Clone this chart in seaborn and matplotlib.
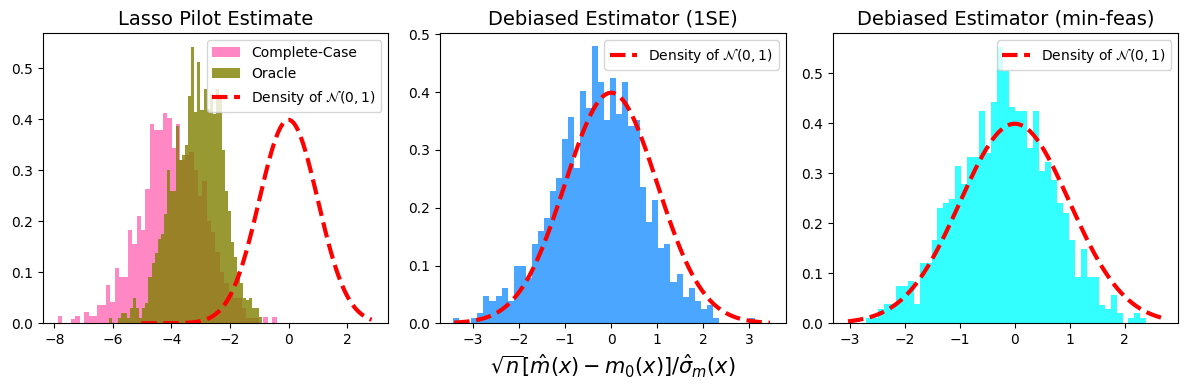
import numpy as np
import pandas as pd
import matplotlib
matplotlib.use("Agg")
import matplotlib.pyplot as plt
import seaborn as sns

# ---------------- data (density heights) ----------------
titles = ["Lasso Pilot Estimate", "Debiased Estimator (1SE)", "Debiased Estimator (min-feas)"]
legend_labels = ["Complete-Case", "Oracle", r"Density of $\mathcal{N}(0,1)$"]
xlabel_text = r"$\sqrt{n}[\hat{m}(x) - m_0(x)]/\hat{\sigma}_m(x)$"

# Panel 1: complete-case lasso pilot (pink), 50 bins
cc_lo, cc_width = -7.877, 0.1494
cc_heights = [0.014, 0, 0, 0.009, 0.014, 0, 0.022, 0.014, 0.014, 0.036,
              0.036, 0.075, 0.042, 0.108, 0.090, 0.090, 0.183, 0.156, 0.210, 0.183,
              0.263, 0.390, 0.379, 0.379, 0.413, 0.402, 0.343, 0.390, 0.320, 0.330,
              0.336, 0.300, 0.250, 0.280, 0.200, 0.180, 0.140, 0.100, 0.080, 0.060,
              0.050, 0.050, 0.030, 0.010, 0.010, 0.010, 0, 0.012, 0, 0.012]

# Panel 1: oracle lasso pilot (olive), 50 bins
or_lo, or_width = -6.143, 0.1045
or_heights = [0.011, 0, 0, 0.011, 0.020, 0.020, 0.011, 0.030, 0.050, 0.030,
              0.011, 0.030, 0.040, 0.090, 0.118, 0.137, 0.165, 0.175, 0.214, 0.300,
              0.260, 0.260, 0.387, 0.320, 0.330, 0.350, 0.446, 0.541, 0.415, 0.513,
              0.418, 0.460, 0.420, 0.450, 0.410, 0.460, 0.440, 0.340, 0.260, 0.220,
              0.160, 0.130, 0.100, 0.080, 0.050, 0.045, 0.050, 0.030, 0.030, 0.013]

# Panel 2: debiased (1SE), 50 bins
se_lo, se_width = -3.43, 0.1311
se_heights = [0.009, 0, 0, 0.009, 0.017, 0.047, 0.039, 0.047, 0.061, 0.039,
              0.099, 0.099, 0.078, 0.137, 0.160, 0.182, 0.229, 0.252, 0.319, 0.357,
              0.268, 0.402, 0.372, 0.479, 0.418, 0.351, 0.424, 0.363, 0.418, 0.342,
              0.351, 0.236, 0.176, 0.213, 0.131, 0.137, 0.071, 0.085, 0.046, 0.061,
              0.039, 0.025, 0.031, 0.009, 0, 0, 0, 0, 0, 0.009]

# Panel 3: debiased (min-feas), 47 bins
mf_lo, mf_width = -2.715, 0.1088
mf_heights = [0.010, 0.010, 0.028, 0.039, 0.039, 0.075, 0.075, 0.085, 0.039, 0.120,
              0.120, 0.167, 0.230, 0.240, 0.248, 0.315, 0.279, 0.333, 0.333, 0.425,
              0.340, 0.443, 0.553, 0.505, 0.432, 0.425, 0.425, 0.351, 0.425, 0.305,
              0.323, 0.287, 0.241, 0.221, 0.167, 0.093, 0.149, 0.093, 0.093, 0.037,
              0.028, 0.057, 0.020, 0, 0.010, 0.020, 0.010]

# x-span of the N(0,1) density curve in each panel
curve_spans = [(-5.03, 2.84), (-3.41, 3.45), (-3.04, 2.68)]
xlims = [(-8.40, 3.41), (-3.72, 3.79), (-3.32, 2.98)]
ylims = [(0, 0.569), (0, 0.502), (0, 0.580)]

# ---------------- plotting ----------------
fig = plt.figure(figsize=(11.89, 3.89), dpi=100)
w, h, b = 0.2907, 0.7458, 0.1689
lefts = [0.0359, 0.3700, 0.7003]
axes = [fig.add_axes([l, b, w, h]) for l in lefts]


def draw_hist(ax, lo, width, heights, color, alpha, label=None):
    n = len(heights)
    centers = lo + width * (np.arange(n) + 0.5)
    df = pd.DataFrame({"x": centers, "w": np.asarray(heights, dtype=float)})
    sns.histplot(data=df, x="x", weights="w", binwidth=width,
                 binrange=(lo, lo + n * width), stat="count",
                 color=color, alpha=alpha, linewidth=0, ax=ax, label=label)


def draw_normal(ax, span, label):
    xs = np.linspace(span[0], span[1], 300)
    ys = np.exp(-xs ** 2 / 2) / np.sqrt(2 * np.pi)
    sns.lineplot(x=xs, y=ys, color="red", linestyle="--", linewidth=3,
                 ax=ax, label=label, sort=False)


draw_hist(axes[0], cc_lo, cc_width, cc_heights, "hotpink", 0.8, legend_labels[0])
draw_hist(axes[0], or_lo, or_width, or_heights, "olive", 0.8, legend_labels[1])
draw_hist(axes[1], se_lo, se_width, se_heights, "dodgerblue", 0.8)
draw_hist(axes[2], mf_lo, mf_width, mf_heights, "cyan", 0.8)

for i, ax in enumerate(axes):
    draw_normal(ax, curve_spans[i], legend_labels[2])
    ax.set_title(titles[i], fontsize=14)
    ax.set_xlim(*xlims[i])
    ax.set_ylim(*ylims[i])
    ax.set_xlabel("")
    ax.set_ylabel("")
    ax.set_yticks([0.0, 0.1, 0.2, 0.3, 0.4, 0.5])
    handles, labels = ax.get_legend_handles_labels()
    order = sorted(range(len(labels)), key=lambda k: legend_labels.index(labels[k]))
    ax.legend([handles[k] for k in order], [labels[k] for k in order],
              loc="upper right", fontsize=10)

axes[1].set_xlabel(xlabel_text, fontsize=15)

fig.savefig("out.png", dpi=100)
